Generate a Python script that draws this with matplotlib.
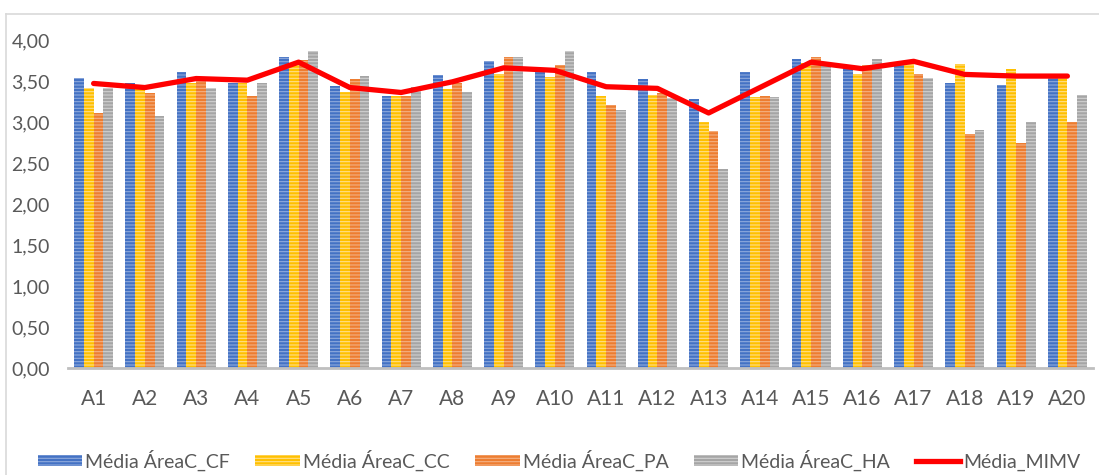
import matplotlib
matplotlib.use("Agg")
import matplotlib.pyplot as plt
import numpy as np
from matplotlib.lines import Line2D
from matplotlib.patches import Patch

categories = [f"A{i}" for i in range(1, 21)]
cf = [3.54, 3.47, 3.61, 3.48, 3.79, 3.44, 3.32, 3.57, 3.74, 3.62,
      3.61, 3.52, 3.28, 3.61, 3.77, 3.66, 3.70, 3.48, 3.45, 3.58]
cc = [3.41, 3.40, 3.47, 3.48, 3.70, 3.36, 3.32, 3.40, 3.59, 3.55,
      3.32, 3.33, 3.00, 3.31, 3.72, 3.59, 3.72, 3.71, 3.65, 3.55]
pa = [3.11, 3.35, 3.51, 3.32, 3.76, 3.53, 3.32, 3.47, 3.79, 3.69,
      3.21, 3.35, 2.89, 3.32, 3.79, 3.70, 3.58, 2.85, 2.75, 3.00]
ha = [3.41, 3.07, 3.42, 3.47, 3.86, 3.56, 3.43, 3.36, 3.79, 3.86,
      3.15, 3.29, 2.43, 3.30, 3.70, 3.77, 3.54, 2.90, 3.00, 3.33]
mimv = [3.47, 3.42, 3.53, 3.51, 3.73, 3.42, 3.36, 3.49, 3.66, 3.63,
        3.43, 3.41, 3.11, 3.42, 3.73, 3.65, 3.74, 3.58, 3.56, 3.56]
yticks = [0, 0.5, 1.0, 1.5, 2.0, 2.5, 3.0, 3.5, 4.0]

series_names = ["Média ÁreaC_CF", "Média ÁreaC_CC", "Média ÁreaC_PA", "Média ÁreaC_HA"]
colors = ["#4472C4", "#FFC000", "#ED7D31", "#A5A5A5"]
stripe = ["#8FAADC", "#FFE08A", "#F4B183", "#D0D0D0"]
line_name = "Média_MIMV"

plt.rcParams['font.family'] = ['Lato', 'DejaVu Sans']
plt.rcParams['hatch.linewidth'] = 0.8

fig = plt.figure(figsize=(10.99, 4.75), dpi=100)
ax = fig.add_axes([68/1099, 1-368/475, (1093-68)/1099, (368-40)/475])

x = np.arange(len(categories))
w = 0.19
for i, (vals, c, s) in enumerate(zip([cf, cc, pa, ha], colors, stripe)):
    ax.bar(x + (i - 1.5) * w, vals, width=w, color=c, edgecolor=s,
           linewidth=0, hatch='-----', zorder=2)

ax.plot(x, mimv, color="#FF0000", linewidth=3.8, solid_capstyle='round',
        solid_joinstyle='round', zorder=3)

ax.set_xlim(-0.5, len(categories) - 0.5)
ax.set_ylim(0, 4.0)
ax.set_yticks(yticks)
ax.set_yticklabels([f"{v:.2f}".replace('.', ',') for v in yticks],
                   fontsize=14, color="#595959")
ax.set_xticks(x)
ax.set_xticklabels(categories, fontsize=15, color="#595959")
ax.tick_params(axis='both', length=0)
ax.tick_params(axis='x', pad=15)
ax.tick_params(axis='y', pad=13)
for sp in ['top', 'right', 'left']:
    ax.spines[sp].set_visible(False)
ax.spines['bottom'].set_color("#BFBFBF")
ax.spines['bottom'].set_linewidth(2)

handles = [Patch(facecolor=c, edgecolor=s, linewidth=0, hatch='-----')
           for c, s in zip(colors, stripe)]
handles.append(Line2D([0], [0], color="#FF0000", linewidth=3.8))
labels = series_names + [line_name]
fig.legend(handles, labels, loc='center', bbox_to_anchor=(0.5087, 1-460/475),
           ncol=5, frameon=False, fontsize=14, handlelength=2.3,
           handleheight=0.5, columnspacing=1.3, handletextpad=0.15,
           labelcolor="#595959")

# chart frame
fig.add_artist(Line2D([6/1099, 6/1099], [0, 1-14/475], transform=fig.transFigure,
                      color="#D9D9D9", linewidth=1.2))
fig.add_artist(Line2D([6/1099, 1], [1-14/475, 1-14/475], transform=fig.transFigure,
                      color="#D9D9D9", linewidth=1.2))

fig.savefig("out.png", dpi=100)
